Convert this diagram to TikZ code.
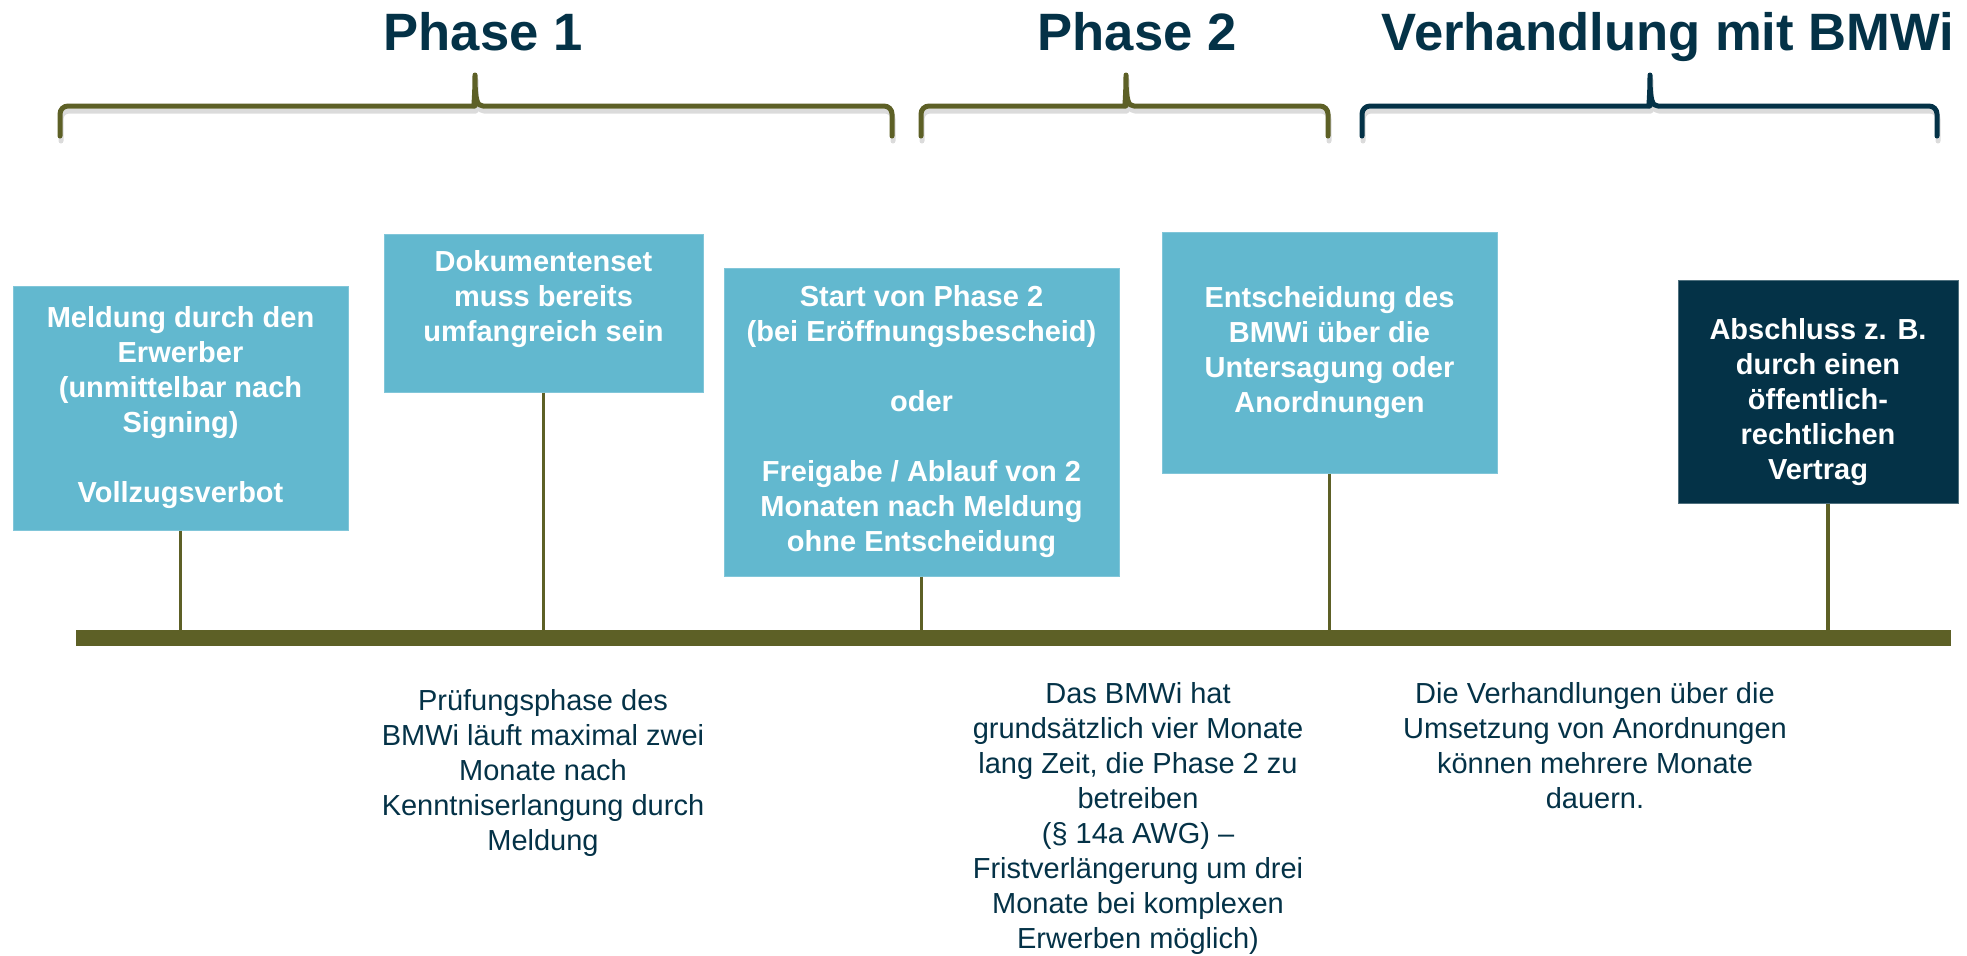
\documentclass[tikz,border=0pt]{standalone}
\usepackage{fontspec}
\setmainfont{Liberation Sans}
\definecolor{boxblue}{RGB}{98,184,207}
\definecolor{deepnavy}{RGB}{4,50,71}
\definecolor{phaseolive}{RGB}{93,96,38}
\begin{document}
\begin{tikzpicture}[x=0.5pt,y=-0.5pt,
event/.style={
	rectangle,fill=boxblue,draw=boxblue!80!white,line width=0.5pt,
	align=center,text=white,inner sep=0pt,
	font=\bfseries\fontsize{14.5}{17.5}\selectfont},
final/.style={event,fill=deepnavy,draw=deepnavy!70!white},
note/.style={align=center,text=deepnavy,inner sep=0pt,anchor=north,
	font=\fontsize{14.5}{17.5}\selectfont},
phase/.style={text=deepnavy,anchor=base,font=\bfseries\fontsize{26.3}{30}\selectfont},
stem/.style={draw=phaseolive,line width=1.6pt},
brace/.style={line width=2.5pt,line cap=round,line join=round},
timeline/.style={rectangle,fill=phaseolive,inner sep=0pt,
	minimum width=937.5pt,minimum height=8pt}
]
\useasboundingbox (0,0) rectangle (1967,955);

% phases
\node[phase] (p1) at (483,50) {Phase 1};
\node[phase] (p2) at (1137,50) {Phase 2};
\node[phase] (p3) at (1668,50) {Verhandlung mit BMWi};

\foreach \xa/\xm/\xb/\col in {60/475/892/phaseolive,921/1126/1328/phaseolive,1362/1650/1937/deepnavy}{
\draw[brace,black!40,opacity=0.35,shift={(1,5)}] (\xa,136) [rounded corners=4pt] -- (\xa,106) -- (\xm-8,106)
	[sharp corners] .. controls (\xm-2,106) and (\xm,100) .. (\xm,75) .. controls (\xm,100) and (\xm+2,106) .. (\xm+8,106)
	[rounded corners=4pt] -- (\xb,106) -- (\xb,136);
\draw[brace,\col] (\xa,136) [rounded corners=4pt] -- (\xa,106) -- (\xm-8,106)
	[sharp corners] .. controls (\xm-2,106) and (\xm,100) .. (\xm,75) .. controls (\xm,100) and (\xm+2,106) .. (\xm+8,106)
	[rounded corners=4pt] -- (\xb,106) -- (\xb,136);
}

% events
\node[event,minimum width=167.5pt,minimum height=122pt] (melde) at (180.5,408)
	{Meldung durch den\\Erwerber\\(unmittelbar nach\\Signing)\\\mbox{}\\Vollzugsverbot};
\node[event,minimum width=159.5pt,minimum height=79pt] (doku) at (543.5,313)
	{Dokumentenset\\muss bereits\\umfangreich sein\\\mbox{}};
\node[event,minimum width=197.5pt,minimum height=154pt] (start) at (921.5,422)
	{Start von Phase 2\\(bei Eröffnungsbescheid)\\\mbox{}\\oder\\\mbox{}\\Freigabe / Ablauf von 2\\Monaten nach Meldung\\ohne Entscheidung};
\node[event,minimum width=167.5pt,minimum height=120.5pt] (entsch) at (1329.5,352.5)
	{Entscheidung des\\BMWi über die\\Untersagung oder\\Anordnungen};
\node[final,minimum width=140pt,minimum height=111.5pt] (vertrag) at (1818,391.5)
	{\rule{0pt}{20.6pt}Abschluss z. B.\\durch einen\\öffentlich-\\rechtlichen\\Vertrag};

% timeline
\node[timeline] (axis) at (1013.5,638) {};
\foreach \b in {melde,doku,start,entsch}
	\draw[stem] (\b.south) -- (\b.south |- axis.north);
\draw[stem] ([xshift=5pt]vertrag.south) -- ([xshift=5pt]vertrag.south |- axis.north);

% notes
\node[note] (pruef) at (543,689) {Prüfungsphase des\\BMWi läuft maximal zwei\\Monate nach\\Kenntniserlangung durch\\Meldung};
\node[note] (frist) at (1138,682) {Das BMWi hat\\grundsätzlich vier Monate\\lang Zeit, die Phase 2 zu\\betreiben\\(§ 14a AWG) –\\Fristverlängerung um drei\\Monate bei komplexen\\Erwerben möglich)};
\node[note] (verh) at (1595,682) {Die Verhandlungen über die\\Umsetzung von Anordnungen\\können mehrere Monate\\dauern.};

\end{tikzpicture}
\end{document}
